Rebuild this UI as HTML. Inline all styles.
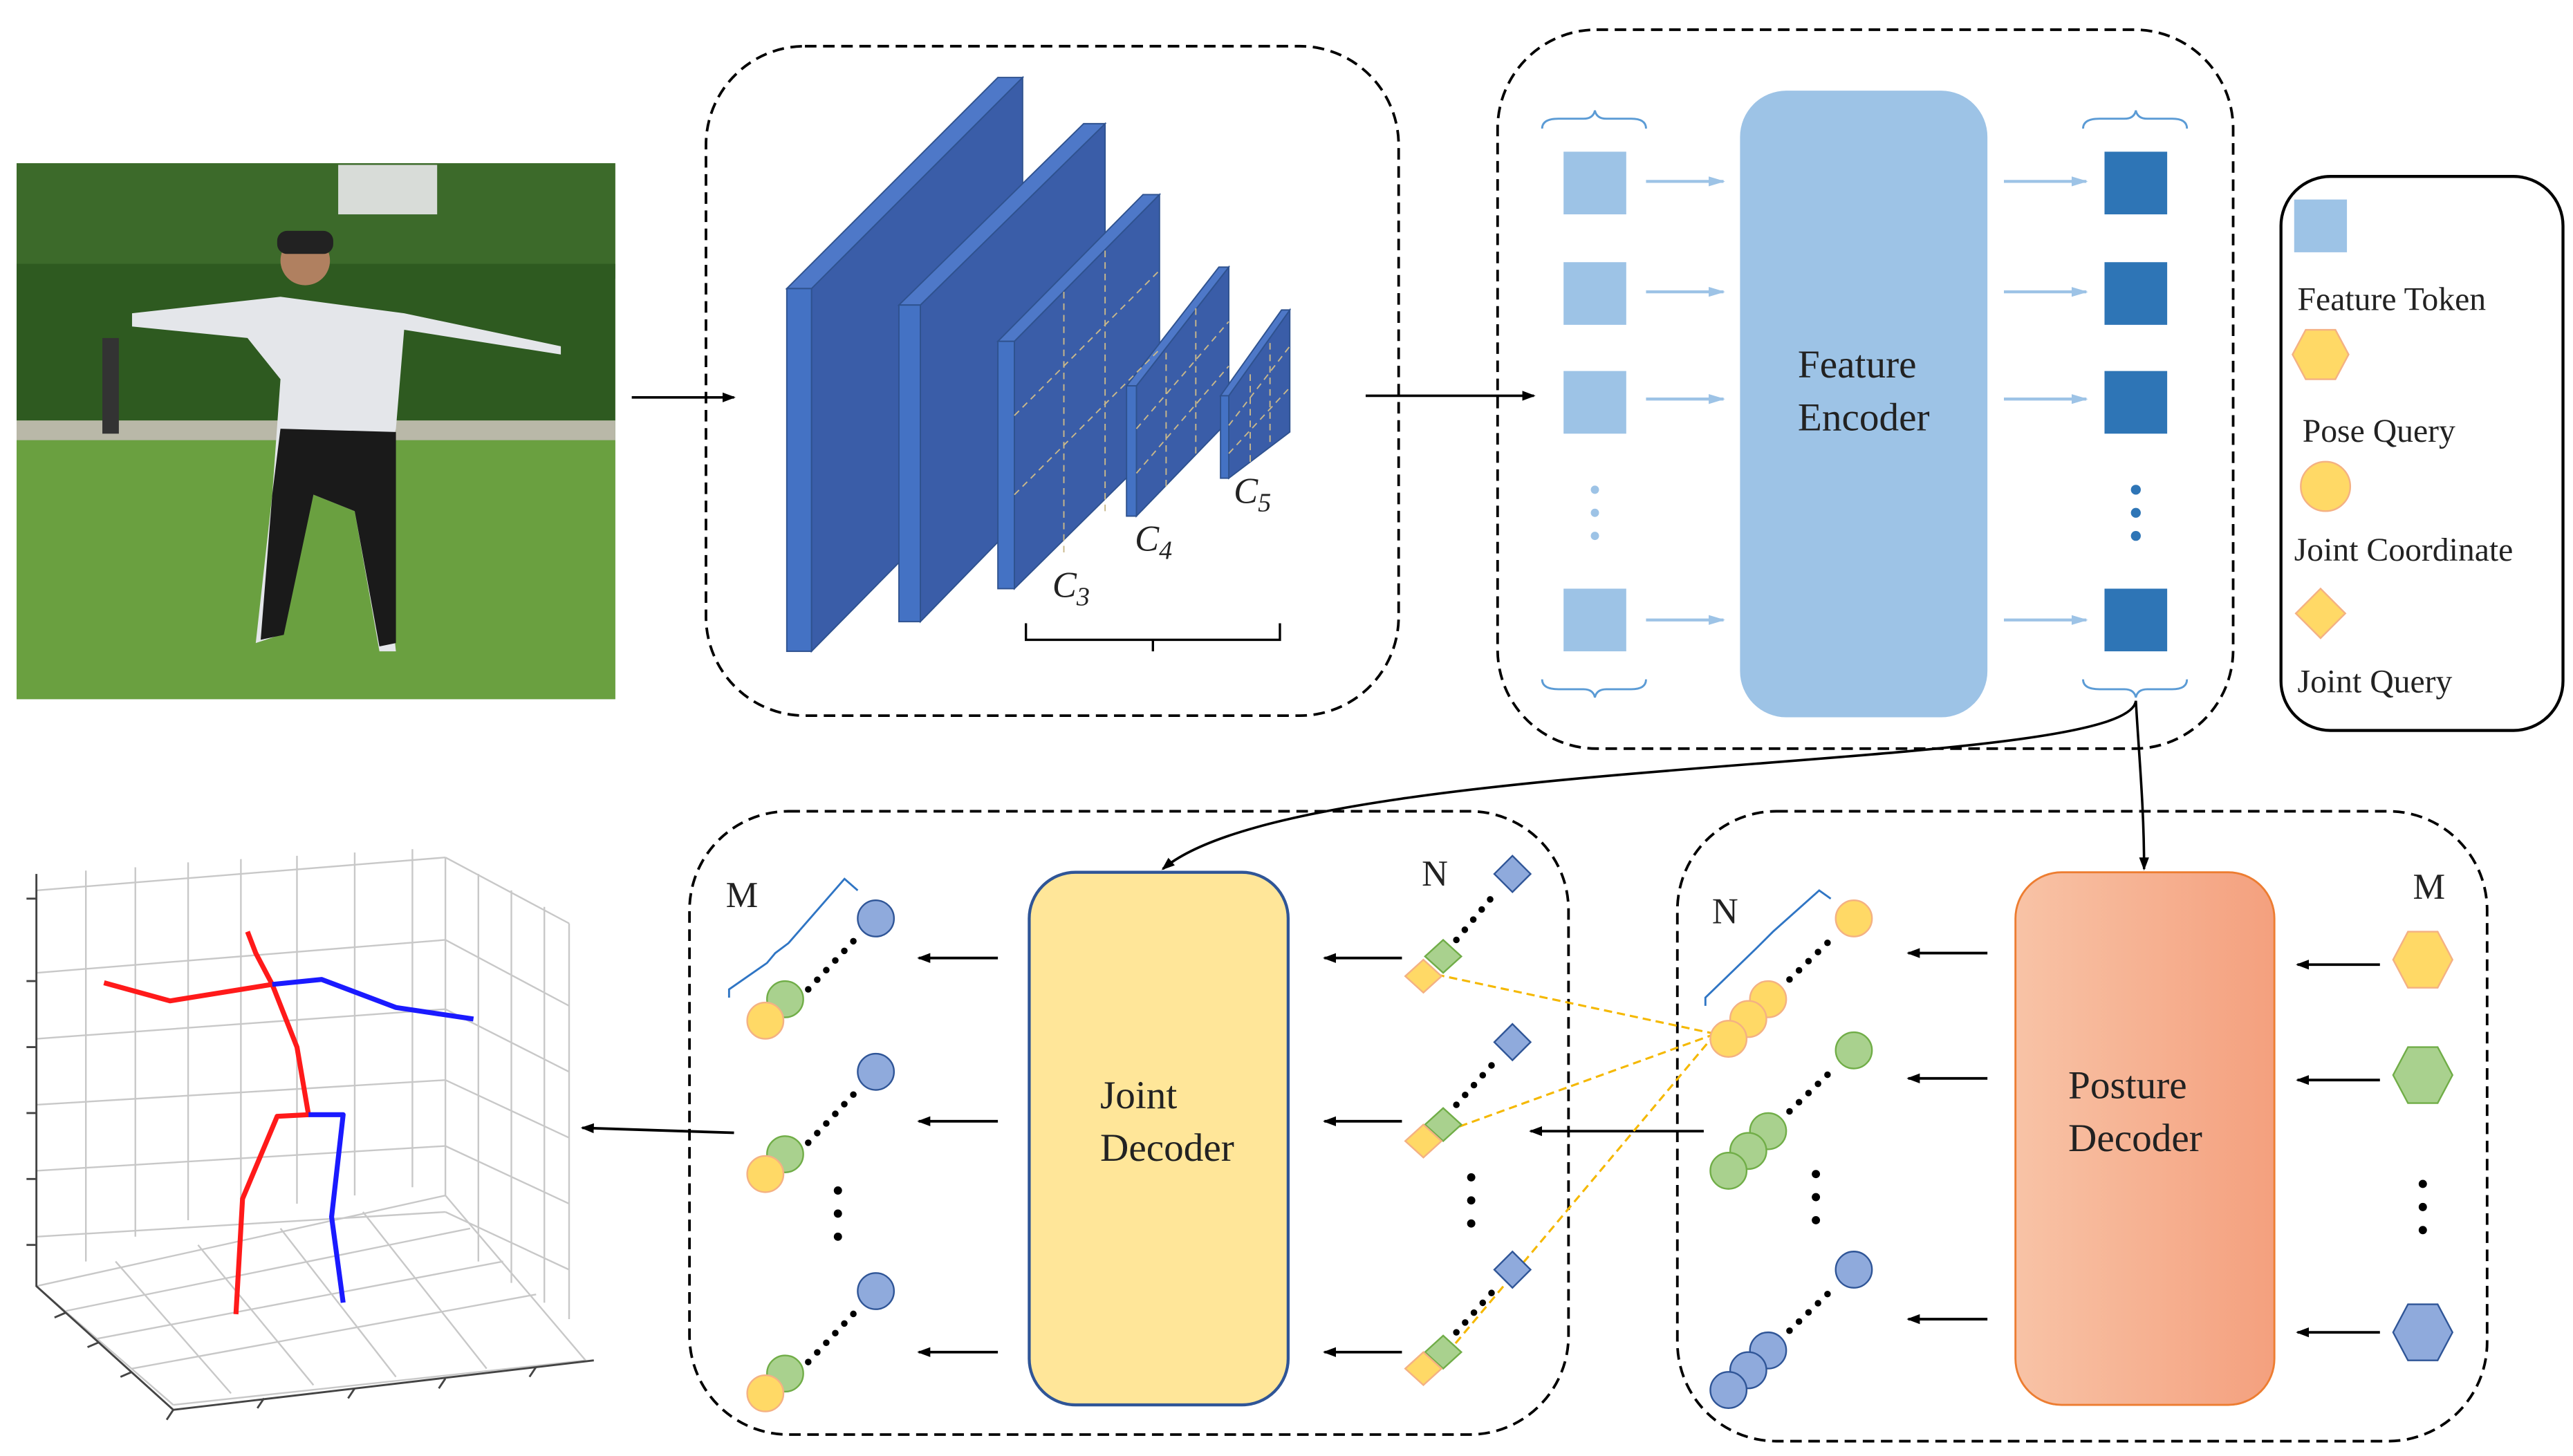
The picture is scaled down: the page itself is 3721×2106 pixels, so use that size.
<!DOCTYPE html>
<html><head><meta charset="utf-8"><style>
html,body{margin:0;padding:0;background:#fff}
svg{display:block}
text{font-family:"Liberation Serif",serif;fill:#222}
</style></head><body>
<svg width="3721" height="2106" viewBox="0 0 1560 883" xmlns="http://www.w3.org/2000/svg">
<defs>
<marker id="ab" markerWidth="8" markerHeight="8" refX="7" refY="4" orient="auto" markerUnits="userSpaceOnUse"><path d="M0,1 L8,4 L0,7 Z" fill="#000"/></marker>
<marker id="al" markerWidth="10" markerHeight="8" refX="9" refY="4" orient="auto" markerUnits="userSpaceOnUse"><path d="M0,1 L10,4 L0,7 Z" fill="#9DC3E6"/></marker>
<linearGradient id="pg" x1="0" x2="1"><stop offset="0" stop-color="#F8C3A6"/><stop offset="1" stop-color="#F4A07E"/></linearGradient>
</defs>

<!-- photo -->
<rect x="10" y="99" width="363" height="325" fill="#4f8a36"/>
<rect x="10" y="99" width="363" height="70" fill="#3c6a2a"/>
<rect x="205" y="100" width="60" height="30" fill="#d8dcd8"/>
<rect x="10" y="160" width="363" height="95" fill="#2e5a20"/>
<rect x="10" y="255" width="363" height="12" fill="#b9b8a8"/>
<rect x="10" y="267" width="363" height="157" fill="#6aa040"/>
<rect x="62" y="205" width="10" height="58" fill="#333"/>
<path d="M80,190 L170,180 L245,190 L340,210 L340,215 L245,200 L240,260 L230,300 L240,395 L230,395 L215,310 L190,300 L170,385 L155,390 L165,300 L170,230 L150,205 L80,198 Z" fill="#e4e6ea"/>
<path d="M170,260 L240,262 L240,390 L230,392 L215,310 L190,300 L172,385 L158,388 L165,300 Z" fill="#1a1a1a"/>
<circle cx="185" cy="158" r="15" fill="#b08060"/>
<rect x="168" y="140" width="34" height="14" rx="6" fill="#222"/>

<line x1="383" y1="241" x2="445" y2="241" stroke="#000" stroke-width="1.5" marker-end="url(#ab)"/>

<!-- box 1 -->
<rect x="428" y="28" width="420" height="406" rx="60" fill="none" stroke="#000" stroke-width="1.6" stroke-dasharray="7,4"/>
<g stroke="#2F528F" stroke-width="0.8">
<path d="M492,175 L620,47 L620,265 L492,395 Z" fill="#3A5DA8"/>
<path d="M477,175 L605,47 L620,47 L492,175 Z" fill="#4E78C8"/>
<rect x="477" y="175" width="15" height="220" fill="#4472C4"/>
<path d="M558,185 L670,75 L670,262 L558,377 Z" fill="#3A5DA8"/>
<path d="M545,185 L657,75 L670,75 L558,185 Z" fill="#4E78C8"/>
<rect x="545" y="185" width="13" height="192" fill="#4472C4"/>
<path d="M615,207 L703,118 L703,270 L615,357 Z" fill="#3A5DA8"/>
<path d="M605,207 L693,118 L703,118 L615,207 Z" fill="#4E78C8"/>
<rect x="605" y="207" width="10" height="150" fill="#4472C4"/>
<path d="M689,234 L745,162 L745,255 L689,313 Z" fill="#3A5DA8"/>
<path d="M683,234 L739,162 L745,162 L689,234 Z" fill="#4E78C8"/>
<rect x="683" y="234" width="6" height="79" fill="#4472C4"/>
<path d="M745,240 L782,188 L782,262 L745,290 Z" fill="#3A5DA8"/>
<path d="M740,240 L777,188 L782,188 L745,240 Z" fill="#4E78C8"/>
<rect x="740" y="240" width="5" height="50" fill="#4472C4"/>
</g>
<g stroke="#C9B88A" stroke-width="0.8" stroke-dasharray="4,3" fill="none">
<path d="M615,252 L703,164 M615,300 L703,212 M645,335 L645,175 M670,310 L670,150"/>
<path d="M689,260 L745,195 M689,287 L745,222 M707,295 L707,212 M725,275 L725,185"/>
<path d="M745,258 L782,210 M745,275 L782,235 M758,280 L758,225 M770,268 L770,205"/>
</g>
<text x="638" y="362" font-size="22" font-style="italic">C<tspan font-size="16" dy="5">3</tspan></text>
<text x="688" y="334" font-size="22" font-style="italic">C<tspan font-size="16" dy="5">4</tspan></text>
<text x="748" y="305" font-size="22" font-style="italic">C<tspan font-size="16" dy="5">5</tspan></text>
<path d="M622,378 L622,388 L776,388 L776,378 M699,388 L699,395" fill="none" stroke="#000" stroke-width="1.4"/>

<line x1="828" y1="240" x2="930" y2="240" stroke="#000" stroke-width="1.5" marker-end="url(#ab)"/>

<!-- box 2 -->
<rect x="908" y="18" width="446" height="436" rx="60" fill="none" stroke="#000" stroke-width="1.6" stroke-dasharray="7,4"/>
<rect x="1055" y="55" width="150" height="380" rx="28" fill="#9DC3E6"/>
<text x="1126" y="229" font-size="24" text-anchor="middle">Feature</text>
<text x="1130" y="261" font-size="24" text-anchor="middle">Encoder</text>
<g fill="#9DC3E6">
<rect x="948" y="92" width="38" height="38"/><rect x="948" y="159" width="38" height="38"/><rect x="948" y="225" width="38" height="38"/><rect x="948" y="357" width="38" height="38"/>
<circle cx="967" cy="297" r="2.5"/><circle cx="967" cy="311" r="2.5"/><circle cx="967" cy="325" r="2.5"/>
</g>
<g fill="#2E75B6">
<rect x="1276" y="92" width="38" height="38"/><rect x="1276" y="159" width="38" height="38"/><rect x="1276" y="225" width="38" height="38"/><rect x="1276" y="357" width="38" height="38"/>
<circle cx="1295" cy="297" r="3"/><circle cx="1295" cy="311" r="3"/><circle cx="1295" cy="325" r="3"/>
</g>
<g fill="none" stroke="#5B9BD5" stroke-width="1.2">
<path d="M935,78 Q935,72 945,72 L960,72 Q966,72 967,67 Q968,72 974,72 L989,72 Q998,72 998,78"/>
<path d="M935,412 Q935,418 945,418 L960,418 Q966,418 967,423 Q968,418 974,418 L989,418 Q998,418 998,412"/>
<path d="M1263,78 Q1263,72 1273,72 L1288,72 Q1294,72 1295,67 Q1296,72 1302,72 L1317,72 Q1326,72 1326,78"/>
<path d="M1263,412 Q1263,418 1273,418 L1288,418 Q1294,418 1295,423 Q1296,418 1302,418 L1317,418 Q1326,418 1326,412"/>
</g>
<g stroke="#9DC3E6" stroke-width="1.8" marker-end="url(#al)">
<line x1="998" y1="110" x2="1045" y2="110"/><line x1="998" y1="177" x2="1045" y2="177"/><line x1="998" y1="242" x2="1045" y2="242"/><line x1="998" y1="376" x2="1045" y2="376"/>
<line x1="1215" y1="110" x2="1265" y2="110"/><line x1="1215" y1="177" x2="1265" y2="177"/><line x1="1215" y1="242" x2="1265" y2="242"/><line x1="1215" y1="376" x2="1265" y2="376"/>
</g>

<!-- legend -->
<rect x="1383" y="107" width="171" height="336" rx="30" fill="none" stroke="#000" stroke-width="1.8"/>
<rect x="1391" y="121" width="32" height="32" fill="#9DC3E6"/>
<text x="1393" y="188" font-size="20">Feature Token</text>
<polygon points="1398,200 1416,200 1424,215 1416,230 1398,230 1390,215" fill="#FFD966" stroke="#F4B183"/>
<text x="1396" y="268" font-size="20">Pose Query</text>
<circle cx="1410" cy="295" r="15" fill="#FFD966" stroke="#F4B183"/>
<text x="1391" y="340" font-size="20">Joint Coordinate</text>
<polygon points="1407,357 1422,372 1407,387 1392,372" fill="#FFD966" stroke="#F4B183"/>
<text x="1393" y="420" font-size="20">Joint Query</text>

<!-- connectors -->
<path d="M1295,425 C1290,470 790,455 705,527" fill="none" stroke="#000" stroke-width="1.5" marker-end="url(#ab)"/>
<path d="M1295,425 C1297,460 1300,490 1300,527" fill="none" stroke="#000" stroke-width="1.5" marker-end="url(#ab)"/>

<!-- box 3 -->
<rect x="418" y="492" width="533" height="378" rx="60" fill="none" stroke="#000" stroke-width="1.6" stroke-dasharray="7,4"/>
<rect x="624" y="529" width="157" height="323" rx="28" fill="#FFE699" stroke="#2F5597" stroke-width="1.8"/>
<text x="667" y="672" font-size="24">Joint</text>
<text x="667" y="704" font-size="24">Decoder</text>
<!-- box 4 -->
<rect x="1017" y="492" width="491" height="382" rx="60" fill="none" stroke="#000" stroke-width="1.6" stroke-dasharray="7,4"/>
<rect x="1222" y="529" width="157" height="323" rx="28" fill="url(#pg)" stroke="#ED7D31" stroke-width="1.2"/>
<text x="1254" y="666" font-size="24">Posture</text>
<text x="1254" y="698" font-size="24">Decoder</text>

<text x="1463" y="545" font-size="22">M</text>
<text x="862" y="537" font-size="22">N</text>
<text x="1038" y="560" font-size="22">N</text>
<text x="440" y="550" font-size="22">M</text>

<!-- hexagons -->
<polygon points="1460,565 1478,565 1487,582 1478,599 1460,599 1451,582" fill="#FFD966" stroke="#F4B183"/>
<polygon points="1460,635 1478,635 1487,652 1478,669 1460,669 1451,652" fill="#A9D18E" stroke="#70AD47"/>
<polygon points="1460,791 1478,791 1487,808 1478,825 1460,825 1451,808" fill="#8FAADC" stroke="#2F5597"/>
<g fill="#000"><circle cx="1469" cy="718" r="2.5"/><circle cx="1469" cy="732" r="2.5"/><circle cx="1469" cy="746" r="2.5"/>
<circle cx="1101" cy="712" r="2.5"/><circle cx="1101" cy="726" r="2.5"/><circle cx="1101" cy="740" r="2.5"/>
<circle cx="892" cy="714" r="2.5"/><circle cx="892" cy="728" r="2.5"/><circle cx="892" cy="742" r="2.5"/>
<circle cx="508" cy="722" r="2.5"/><circle cx="508" cy="736" r="2.5"/><circle cx="508" cy="750" r="2.5"/></g>

<g stroke="#000" stroke-width="1.6" marker-end="url(#ab)">
<line x1="1443" y1="585" x2="1393" y2="585"/><line x1="1443" y1="655" x2="1393" y2="655"/><line x1="1443" y1="808" x2="1393" y2="808"/>
<line x1="1205" y1="578" x2="1157" y2="578"/><line x1="1205" y1="654" x2="1157" y2="654"/><line x1="1205" y1="800" x2="1157" y2="800"/>
<line x1="1033" y1="686" x2="928" y2="686"/>
<line x1="850" y1="581" x2="803" y2="581"/><line x1="850" y1="680" x2="803" y2="680"/><line x1="850" y1="820" x2="803" y2="820"/>
<line x1="605" y1="581" x2="557" y2="581"/><line x1="605" y1="680" x2="557" y2="680"/><line x1="605" y1="820" x2="557" y2="820"/>
<line x1="445" y1="687" x2="353" y2="684"/>
</g>

<!-- orange dashed -->
<g stroke="#F5B800" stroke-width="1.3" stroke-dasharray="5,3">
<line x1="1040" y1="627" x2="866" y2="590"/><line x1="1040" y1="627" x2="866" y2="690"/><line x1="1040" y1="627" x2="878" y2="820"/>
</g>

<!-- posture outputs -->
<g stroke-width="1">
<circle cx="1124" cy="557" r="11" fill="#FFD966" stroke="#F4B183"/>
<circle cx="1072" cy="606" r="11" fill="#FFD966" stroke="#F4B183"/><circle cx="1060" cy="618" r="11" fill="#FFD966" stroke="#F4B183"/><circle cx="1048" cy="630" r="11" fill="#FFD966" stroke="#F4B183"/>
<circle cx="1124" cy="637" r="11" fill="#A9D18E" stroke="#70AD47"/>
<circle cx="1072" cy="686" r="11" fill="#A9D18E" stroke="#70AD47"/><circle cx="1060" cy="698" r="11" fill="#A9D18E" stroke="#70AD47"/><circle cx="1048" cy="710" r="11" fill="#A9D18E" stroke="#70AD47"/>
<circle cx="1124" cy="770" r="11" fill="#8FAADC" stroke="#2F5597"/>
<circle cx="1072" cy="819" r="11" fill="#8FAADC" stroke="#2F5597"/><circle cx="1060" cy="831" r="11" fill="#8FAADC" stroke="#2F5597"/><circle cx="1048" cy="843" r="11" fill="#8FAADC" stroke="#2F5597"/>
</g>
<g stroke="#000" stroke-width="4" stroke-linecap="round" stroke-dasharray="0,8">
<line x1="1085" y1="594" x2="1113" y2="567"/><line x1="1085" y1="674" x2="1113" y2="647"/><line x1="1085" y1="807" x2="1113" y2="780"/>
<line x1="883" y1="570" x2="908" y2="540"/><line x1="883" y1="670" x2="908" y2="642"/><line x1="883" y1="808" x2="908" y2="780"/>
<line x1="490" y1="600" x2="520" y2="568"/><line x1="490" y1="693" x2="520" y2="661"/><line x1="490" y1="826" x2="520" y2="794"/>
</g>
<path d="M1034,610 L1034,605 L1065,575 L1070,570 L1075,565 L1103,540 L1110,545" fill="none" stroke="#2F75C4" stroke-width="1.2"/>
<path d="M442,605 L442,600 L465,584 L470,578 L478,572 L512,533 L520,540" fill="none" stroke="#2F75C4" stroke-width="1.2"/>

<!-- joint decoder inputs -->
<g stroke-width="1">
<polygon points="917,519 928,530 917,541 906,530" fill="#8FAADC" stroke="#2F5597"/>
<polygon points="875,570 886,580 875,590 864,580" fill="#A9D18E" stroke="#70AD47"/><polygon points="863,582 874,592 863,602 852,592" fill="#FFD966" stroke="#F4B183"/>
<polygon points="917,621 928,632 917,643 906,632" fill="#8FAADC" stroke="#2F5597"/>
<polygon points="875,672 886,682 875,692 864,682" fill="#A9D18E" stroke="#70AD47"/><polygon points="863,682 874,692 863,702 852,692" fill="#FFD966" stroke="#F4B183"/>
<polygon points="917,759 928,770 917,781 906,770" fill="#8FAADC" stroke="#2F5597"/>
<polygon points="875,810 886,820 875,830 864,820" fill="#A9D18E" stroke="#70AD47"/><polygon points="863,820 874,830 863,840 852,830" fill="#FFD966" stroke="#F4B183"/>
</g>
<!-- joint outputs -->
<g stroke-width="1">
<circle cx="531" cy="557" r="11" fill="#8FAADC" stroke="#2F5597"/>
<circle cx="476" cy="606" r="11" fill="#A9D18E" stroke="#70AD47"/><circle cx="464" cy="619" r="11" fill="#FFD966" stroke="#F4B183"/>
<circle cx="531" cy="650" r="11" fill="#8FAADC" stroke="#2F5597"/>
<circle cx="476" cy="700" r="11" fill="#A9D18E" stroke="#70AD47"/><circle cx="464" cy="712" r="11" fill="#FFD966" stroke="#F4B183"/>
<circle cx="531" cy="783" r="11" fill="#8FAADC" stroke="#2F5597"/>
<circle cx="476" cy="833" r="11" fill="#A9D18E" stroke="#70AD47"/><circle cx="464" cy="845" r="11" fill="#FFD966" stroke="#F4B183"/>
</g>

<!-- 3D plot -->
<g stroke="#c8c8c8" stroke-width="1" fill="none">
<path d="M22,530 L22,780 M52,528 L52,765 M82,526 L82,750 M114,523 L114,740 M146,521 L146,735 M180,519 L180,730 M215,517 L215,725 M250,515 L250,720 M270,520 L270,725"/>
<path d="M22,540 L270,520 M22,590 L270,570 M22,630 L270,612 M22,670 L270,655 M22,710 L270,695 M22,750 L270,735"/>
<path d="M270,520 L345,560 M270,570 L345,610 M270,612 L345,650 M270,655 L345,690 M270,695 L345,730 M270,735 L345,770"/>
<path d="M290,530 L290,765 M310,540 L310,778 M330,550 L330,790 M345,560 L345,800"/>
<path d="M22,780 L270,725 M40,795 L285,745 M58,812 L305,765 M80,830 L325,785 M105,852 L355,825 M22,780 L105,852 M70,765 L140,845 M120,755 L190,840 M170,745 L240,835 M220,735 L295,830 M270,725 L355,825"/>
</g>
<g stroke="#444" stroke-width="1.2" fill="none">
<path d="M22,530 L22,780 L105,855 L360,825"/>
<path d="M22,545 l-6,0 M22,595 l-6,0 M22,635 l-6,0 M22,675 l-6,0 M22,715 l-6,0 M22,755 l-6,0"/>
<path d="M105,855 l-4,6 M160,848 l-4,6 M215,842 l-4,6 M270,836 l-4,6 M325,829 l-4,6 M40,796 l-7,3 M60,814 l-7,3 M80,832 l-7,3"/>
</g>
<g fill="none" stroke-width="3" stroke-linejoin="round">
<polyline points="150,565 155,578 165,597 180,635 187,676 168,677 147,727 143,797" stroke="#ff1a1a"/>
<polyline points="63,596 103,607 165,597" stroke="#ff1a1a"/>
<polyline points="165,597 195,594 240,611 287,618" stroke="#1a1aff"/>
<polyline points="187,676 208,676 201,738 208,790" stroke="#1a1aff"/>
</g>
</svg>
</body></html>
